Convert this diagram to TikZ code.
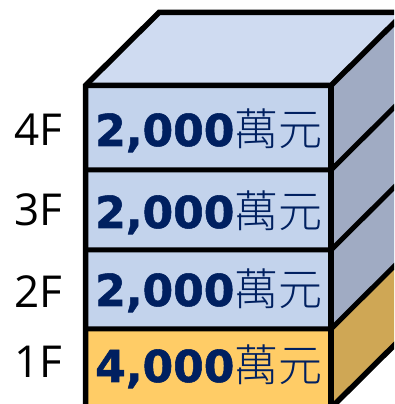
\documentclass[tikz,border=0pt]{standalone}
\usepackage{fontspec}
\newfontfamily\numfont{DejaVu Sans Bold}[FakeBold=1.2]
\newfontfamily\cjkfont{Noto Sans CJK TC Light}
\newfontfamily\labfont{Open Sans}
\definecolor{frontblue}{HTML}{C3D3EC}
\definecolor{topblue}{HTML}{CFDBF1}
\definecolor{sideblue}{HTML}{A0ABC3}
\definecolor{frontgold}{HTML}{FFCC66}
\definecolor{sidegold}{HTML}{CFA755}
\definecolor{navy}{HTML}{002060}
\tikzset{
  edge/.style={draw=black,line width=5.5pt,line join=miter},
  price/.style={anchor=base west,inner sep=0pt,text=navy},
  floorlab/.style={anchor=base west,inner sep=0pt,text=black,font=\labfont\fontsize{44}{44}\selectfont},
}
\newcommand{\pricetext}[1]{{\numfont\fontsize{44}{44}\selectfont #1}{\cjkfont\fontsize{44}{44}\selectfont 萬元}}
\begin{document}
\begin{tikzpicture}[x=1pt,y=1pt]
\useasboundingbox (0,0) rectangle (394,404);
\clip (0,0) rectangle (394,404);
% front corners x
\def\xl{85.5}\def\xr{331}\def\dx{73.5}\def\dy{73}
% floor levels (tikz y)
\def\ya{-4}\def\yb{75}\def\yc{154}\def\yd{234}\def\ye{318.5}
% 1F
\fill[frontgold] (\xl,\ya) rectangle (\xr,\yb);
\fill[sidegold] (\xr,\ya) -- ++(\dx,\dy) -- (\xr+\dx,\yb+\dy) -- (\xr,\yb) -- cycle;
% 2F-4F
\fill[frontblue] (\xl,\yb) rectangle (\xr,\ye);
\fill[sideblue] (\xr,\yb) -- (\xr+\dx,\yb+\dy) -- (\xr+\dx,\ye+\dy) -- (\xr,\ye) -- cycle;
\fill[topblue] (\xl,\ye) -- (\xl+\dx,\ye+\dy) -- (\xr+\dx,\ye+\dy) -- (\xr,\ye) -- cycle;
% edges
\draw[edge] (\xl,\ya) -- (\xl,\ye) -- (\xl+\dx,\ye+\dy) -- (\xr+\dx,\ye+\dy) -- (\xr+\dx,\ya+\dy) -- (\xr,\ya) -- cycle;
\draw[edge] (\xl,\ye) -- (\xr,\ye) -- (\xr+\dx,\ye+\dy);
\draw[edge] (\xr,\ye) -- (\xr,\ya);
\foreach \yy in {\yb,\yc,\yd}{
  \draw[edge,line width=5pt] (\xl,\yy) -- (\xr,\yy) -- (\xr+\dx,\yy+\dy);
}
% texts
\node[price] (p4) at (95,258) {\pricetext{2,000}};
\node[price] (p3) at (95,176) {\pricetext{2,000}};
\node[price] (p2) at (95,98) {\pricetext{2,000}};
\node[price] (p1) at (95,22) {\pricetext{4,000}};
\node[floorlab] (l4) at (14,258) {4F};
\node[floorlab] (l3) at (14,178) {3F};
\node[floorlab] (l2) at (14,96) {2F};
\node[floorlab] (l1) at (14,26) {1F};
\end{tikzpicture}
\end{document}
